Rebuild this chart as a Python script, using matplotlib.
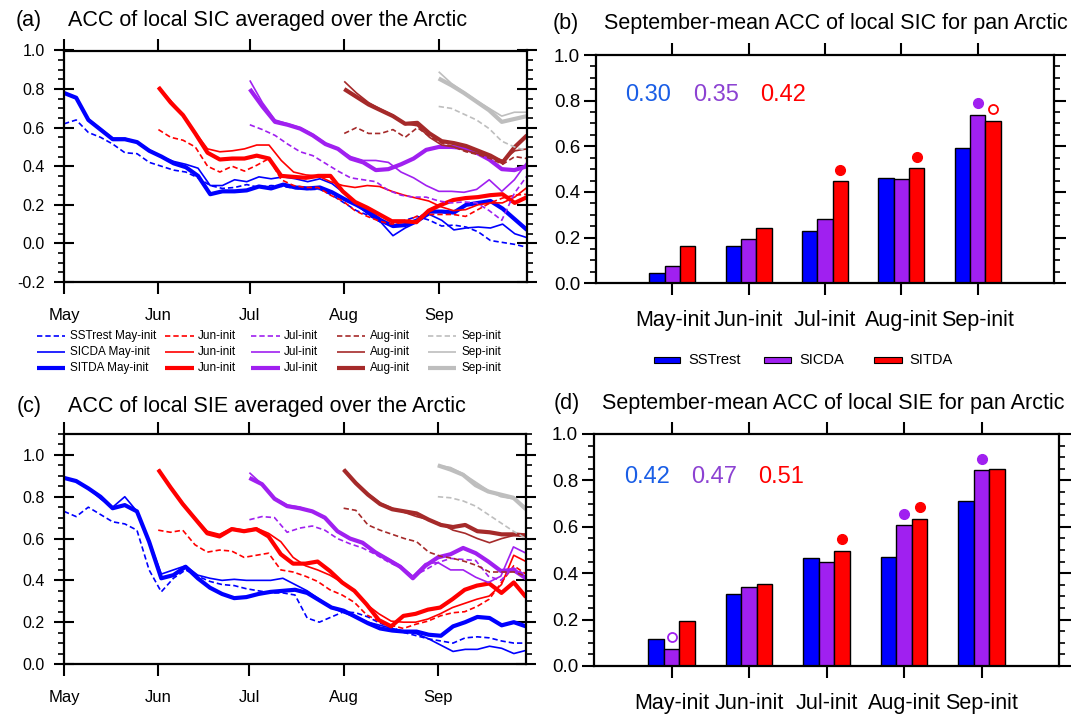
import numpy as np
import matplotlib
matplotlib.use('Agg')
import matplotlib.pyplot as plt
from matplotlib.lines import Line2D
from matplotlib.patches import Rectangle
from matplotlib.ticker import MultipleLocator, FormatStrFormatter

plt.rcParams['font.family'] = ['Liberation Sans', 'DejaVu Sans']
plt.rcParams['axes.unicode_minus'] = False

# ---------------- data ----------------
months = ['May', 'Jun', 'Jul', 'Aug', 'Sep']
init_days = [0, 31, 61, 92, 123]      # day offset from 1 May
end_day = 152                          # 30 Sep
exps = ['SSTrest', 'SICDA', 'SITDA']

# (a) ACC of local SIC
sic_may_sst = [0.62,0.64,0.575,0.55,0.515,0.47,0.465,0.42,0.40,0.38,0.37,0.34,0.30,0.285,0.29,0.305,0.29,0.30,0.295,0.285,0.28,0.28,0.25,0.21,0.17,0.145,0.11,0.09,0.12,0.14,0.12,0.09,0.095,0.085,0.06,0.015,0.005,-0.005,-0.02]
sic_may_sicda = [0.78,0.755,0.645,0.595,0.545,0.545,0.525,0.485,0.45,0.425,0.41,0.39,0.30,0.30,0.33,0.32,0.345,0.335,0.345,0.335,0.32,0.335,0.31,0.26,0.20,0.15,0.11,0.04,0.08,0.11,0.15,0.12,0.07,0.08,0.085,0.08,0.10,0.05,0.03]
sic_may_sitda = [0.78,0.755,0.64,0.59,0.54,0.54,0.525,0.48,0.45,0.415,0.395,0.35,0.255,0.27,0.27,0.275,0.295,0.285,0.305,0.29,0.285,0.29,0.265,0.23,0.20,0.165,0.12,0.09,0.095,0.12,0.165,0.165,0.16,0.20,0.21,0.22,0.18,0.125,0.07]
sic_jun_sst = [0.59,0.55,0.535,0.50,0.40,0.37,0.40,0.375,0.405,0.44,0.33,0.30,0.29,0.29,0.25,0.22,0.17,0.14,0.115,0.10,0.11,0.14,0.15,0.15,0.15,0.14,0.175,0.21,0.235,0.25,0.255]
sic_jun_sicda = [0.81,0.74,0.665,0.575,0.49,0.475,0.48,0.49,0.51,0.51,0.43,0.37,0.355,0.35,0.32,0.30,0.29,0.30,0.295,0.27,0.25,0.235,0.22,0.19,0.17,0.175,0.20,0.21,0.21,0.24,0.29]
sic_jun_sitda = [0.81,0.73,0.665,0.57,0.47,0.435,0.44,0.44,0.455,0.44,0.35,0.345,0.34,0.35,0.35,0.27,0.215,0.185,0.15,0.115,0.115,0.11,0.17,0.20,0.225,0.235,0.24,0.25,0.255,0.21,0.24]
sic_jul_sst = [0.615,0.59,0.56,0.515,0.475,0.455,0.415,0.375,0.34,0.33,0.32,0.275,0.25,0.24,0.24,0.22,0.21,0.215,0.21,0.17,0.12,0.26,0.35]
sic_jul_sicda = [0.845,0.73,0.64,0.62,0.60,0.565,0.52,0.49,0.45,0.43,0.43,0.42,0.37,0.34,0.30,0.27,0.27,0.265,0.28,0.33,0.27,0.33,0.42]
sic_jul_sitda = [0.80,0.71,0.63,0.615,0.595,0.56,0.515,0.49,0.44,0.42,0.38,0.385,0.41,0.44,0.485,0.50,0.50,0.495,0.47,0.435,0.385,0.38,0.40]
sic_aug_sst = [0.57,0.60,0.57,0.57,0.59,0.55,0.60,0.555,0.52,0.50,0.475,0.46,0.44,0.41,0.45,0.44]
sic_aug_sicda = [0.84,0.78,0.73,0.695,0.665,0.62,0.61,0.55,0.51,0.50,0.48,0.465,0.45,0.43,0.48,0.49]
sic_aug_sitda = [0.80,0.76,0.72,0.69,0.66,0.62,0.625,0.57,0.53,0.52,0.505,0.48,0.455,0.42,0.50,0.56]
sic_sep_sst = [0.71,0.70,0.67,0.64,0.595,0.53,0.50,0.48]
sic_sep_sicda = [0.89,0.83,0.785,0.74,0.70,0.66,0.68,0.68]
sic_sep_sitda = [0.855,0.82,0.78,0.735,0.69,0.63,0.645,0.66]

# (c) ACC of local SIE
sie_may_sst = [0.73,0.705,0.75,0.715,0.68,0.67,0.64,0.45,0.345,0.41,0.45,0.42,0.395,0.38,0.375,0.36,0.35,0.34,0.34,0.33,0.22,0.20,0.225,0.25,0.245,0.225,0.195,0.175,0.15,0.135,0.12,0.11,0.10,0.125,0.13,0.125,0.11,0.10,0.10]
sie_may_sicda = [0.89,0.875,0.84,0.79,0.75,0.80,0.73,0.59,0.43,0.45,0.47,0.425,0.41,0.40,0.405,0.40,0.40,0.40,0.41,0.38,0.35,0.31,0.27,0.245,0.225,0.20,0.185,0.17,0.155,0.145,0.12,0.09,0.06,0.07,0.07,0.085,0.075,0.05,0.065]
sie_may_sitda = [0.89,0.875,0.84,0.80,0.745,0.76,0.73,0.585,0.41,0.425,0.465,0.41,0.365,0.335,0.315,0.32,0.335,0.345,0.35,0.355,0.34,0.305,0.27,0.255,0.225,0.195,0.17,0.16,0.155,0.155,0.14,0.135,0.18,0.20,0.225,0.22,0.185,0.20,0.18]
sie_jun_sst = [0.64,0.63,0.64,0.57,0.535,0.545,0.54,0.51,0.52,0.53,0.45,0.44,0.42,0.395,0.355,0.33,0.295,0.235,0.205,0.185,0.17,0.19,0.205,0.23,0.245,0.25,0.275,0.31,0.39,0.47,0.43]
sie_jun_sicda = [0.93,0.85,0.77,0.70,0.635,0.62,0.65,0.64,0.65,0.625,0.585,0.51,0.47,0.45,0.425,0.39,0.35,0.285,0.24,0.205,0.20,0.20,0.215,0.24,0.27,0.29,0.31,0.325,0.38,0.52,0.49]
sie_jun_sitda = [0.93,0.845,0.765,0.695,0.625,0.61,0.645,0.635,0.645,0.61,0.525,0.48,0.48,0.49,0.445,0.39,0.35,0.285,0.21,0.18,0.23,0.24,0.26,0.27,0.31,0.355,0.375,0.385,0.34,0.39,0.32]
sie_jul_sst = [0.69,0.705,0.70,0.63,0.65,0.66,0.64,0.60,0.575,0.555,0.525,0.49,0.46,0.42,0.45,0.485,0.505,0.50,0.495,0.42,0.40,0.46,0.425]
sie_jul_sicda = [0.915,0.86,0.795,0.76,0.75,0.73,0.695,0.635,0.60,0.58,0.535,0.505,0.47,0.42,0.48,0.485,0.45,0.45,0.415,0.39,0.42,0.56,0.53]
sie_jul_sitda = [0.89,0.86,0.79,0.755,0.745,0.73,0.70,0.635,0.60,0.58,0.535,0.50,0.465,0.41,0.47,0.51,0.525,0.555,0.53,0.49,0.445,0.45,0.41]
sie_aug_sst = [0.745,0.735,0.665,0.64,0.62,0.60,0.585,0.535,0.515,0.505,0.49,0.47,0.44,0.44,0.44,0.42]
sie_aug_sicda = [0.93,0.87,0.815,0.77,0.745,0.725,0.705,0.69,0.67,0.64,0.625,0.60,0.58,0.60,0.615,0.62]
sie_aug_sitda = [0.93,0.865,0.81,0.765,0.74,0.73,0.72,0.69,0.665,0.655,0.665,0.635,0.63,0.62,0.62,0.615]
sie_sep_sst = [0.80,0.795,0.78,0.755,0.715,0.675,0.635,0.60]
sie_sep_sicda = [0.95,0.94,0.91,0.87,0.83,0.80,0.79,0.75]
sie_sep_sitda = [0.95,0.93,0.905,0.855,0.825,0.81,0.795,0.74]

# (b)/(d) September-mean ACC bars
groups = ['May-init', 'Jun-init', 'Jul-init', 'Aug-init', 'Sep-init']
sic_bar_sst = [0.044, 0.165, 0.231, 0.460, 0.591]
sic_bar_sicda = [0.077, 0.196, 0.282, 0.455, 0.739]
sic_bar_sitda = [0.165, 0.241, 0.447, 0.505, 0.712]
sie_bar_sst = [0.116, 0.310, 0.467, 0.470, 0.710]
sie_bar_sicda = [0.073, 0.342, 0.450, 0.606, 0.843]
sie_bar_sitda = [0.194, 0.352, 0.497, 0.635, 0.848]
# significance marks: 'f' filled dot, 'o' open circle, '' none
sic_sig_sicda = ['', '', '', '', 'f']
sic_sig_sitda = ['', '', 'f', 'f', 'o']
sie_sig_sicda = ['o', '', '', 'f', 'f']
sie_sig_sitda = ['', '', 'f', 'f', '']
sic_means = ['0.30', '0.35', '0.42']
sie_means = ['0.42', '0.47', '0.51']

# ---------------- style ----------------
month_colors = ['#0000ff', '#ff0000', '#a020f0', '#a52a2a', '#bebebe']
exp_styles = {'SSTrest': dict(lw=1.2, ls=(0, (3.2, 1.8))),
              'SICDA': dict(lw=1.2, ls='-'),
              'SITDA': dict(lw=3.0, ls='-')}
bar_colors = ['#0000ff', '#a020f0', '#ff0000']
mean_colors = ['#1a5ee6', '#8c42d2', '#ff0000']

W, H = 1088, 717
fig = plt.figure(figsize=(W / 100, H / 100), dpi=100)


def fx(x):
    return x / W


def fy(y):
    return 1 - y / H


def axes_px(l, t, r, b):
    return fig.add_axes([fx(l), fy(b), (r - l) / W, (b - t) / H])


def style_axes(ax, ylab_size, ylab_pad, y_inout=False):
    for s in ax.spines.values():
        s.set_linewidth(1.6)
    ax.tick_params(which='both', direction='out', top=True, right=True, width=1.5)
    ax.tick_params(which='major', length=8.5)
    ax.tick_params(which='minor', length=4.0, width=1.2)
    if y_inout:
        ax.tick_params(axis='y', which='major', direction='inout', length=14)
    ax.tick_params(axis='y', labelsize=ylab_size, pad=ylab_pad)
    ax.yaxis.set_major_formatter(FormatStrFormatter('%.1f'))


sic = {'May': [sic_may_sst, sic_may_sicda, sic_may_sitda],
       'Jun': [sic_jun_sst, sic_jun_sicda, sic_jun_sitda],
       'Jul': [sic_jul_sst, sic_jul_sicda, sic_jul_sitda],
       'Aug': [sic_aug_sst, sic_aug_sicda, sic_aug_sitda],
       'Sep': [sic_sep_sst, sic_sep_sicda, sic_sep_sitda]}
sie = {'May': [sie_may_sst, sie_may_sicda, sie_may_sitda],
       'Jun': [sie_jun_sst, sie_jun_sicda, sie_jun_sitda],
       'Jul': [sie_jul_sst, sie_jul_sicda, sie_jul_sitda],
       'Aug': [sie_aug_sst, sie_aug_sicda, sie_aug_sitda],
       'Sep': [sie_sep_sst, sie_sep_sicda, sie_sep_sitda]}


def line_panel(ax, data, ylim, ymajor):
    for m, start, col in zip(months, init_days, month_colors):
        for exp, vals in zip(exps, data[m]):
            days = np.linspace(start, end_day, len(vals))
            ax.plot(days, vals, color=col, solid_capstyle='butt', **exp_styles[exp])
    ax.set_xlim(0, end_day)
    ax.set_ylim(*ylim)
    ax.set_xticks(init_days)
    ax.set_xticklabels(months)
    ax.set_yticks(ymajor)
    ax.yaxis.set_minor_locator(MultipleLocator(0.05))
    style_axes(ax, 11.5, 7, y_inout=True)
    ax.tick_params(axis='x', labelsize=12, pad=10)


def bar_panel(ax, s1, s2, s3, sig2, sig3, means, mean_xy):
    x = np.arange(1, len(groups) + 1)
    for k, (vals, col) in enumerate(zip([s1, s2, s3], bar_colors)):
        ax.bar(x + (k - 1) * 0.2, vals, width=0.2, color=col, edgecolor='black', linewidth=1.0, zorder=2)
    for vals, sig, col, k in [(s2, sig2, bar_colors[1], 0), (s3, sig3, bar_colors[2], 1)]:
        for i, s in enumerate(sig):
            if s == 'f':
                ax.plot(x[i] + k * 0.2, vals[i] + 0.05, 'o', ms=7, color=col, mec=col, zorder=3)
            elif s == 'o':
                ax.plot(x[i] + k * 0.2, vals[i] + 0.05, 'o', ms=6.5, mfc='white', mec=col, mew=1.3, zorder=3)
    for (tx, ty), t, c in zip(mean_xy, means, mean_colors):
        ax.text(tx, ty, t, color=c, fontsize=17, ha='center', va='center')
    ax.set_xlim(0, 6)
    ax.set_ylim(0, 1.0)
    ax.set_xticks(x)
    ax.set_xticklabels(groups)
    ax.set_yticks(np.arange(0, 1.01, 0.2))
    ax.yaxis.set_minor_locator(MultipleLocator(0.05))
    style_axes(ax, 13.5, 3)
    ax.tick_params(axis='x', labelsize=15.5, pad=11)


# (a)
axA = axes_px(64, 50.5, 527, 282)
line_panel(axA, sic, (-0.2, 1.0), np.arange(-0.2, 1.01, 0.2))
# (b)
axB = axes_px(596, 55, 1054, 283.3)
bar_panel(axB, sic_bar_sst, sic_bar_sicda, sic_bar_sitda, sic_sig_sicda, sic_sig_sitda,
          sic_means, [(0.685, 0.825), (1.57, 0.825), (2.45, 0.825)])
# (c)
axC = axes_px(64, 434, 526, 664)
line_panel(axC, sie, (0.0, 1.1), np.arange(0.0, 1.01, 0.2))
# (d)
axD = axes_px(594, 434, 1059, 666)
bar_panel(axD, sie_bar_sst, sie_bar_sicda, sie_bar_sitda, sie_sig_sicda, sie_sig_sitda,
          sie_means, [(0.687, 0.813), (1.555, 0.813), (2.41, 0.813)])

# titles
title_size = 15.5
for lab, lx, tx, ty, txt in [
        ('(a)', 29, 68, 20.5, 'ACC of local SIC averaged over the Arctic'),
        ('(b)', 566, 604, 23.5, 'September-mean ACC of local SIC for pan Arctic'),
        ('(c)', 29, 68, 406.5, 'ACC of local SIE averaged over the Arctic'),
        ('(d)', 567, 602, 403, 'September-mean ACC of local SIE for pan Arctic')]:
    fig.text(fx(lx), fy(ty), lab, fontsize=title_size, ha='center', va='center')
    fig.text(fx(tx), fy(ty), txt, fontsize=title_size, ha='left', va='center')

# legend of (a)
leg_cols = [(37, 65, 70), (165, 194, 198), (251, 280, 284), (337, 365, 369.5), (428, 456, 461)]
leg_rows = [335.7, 352.3, 368.3]
for (x0, x1, xt), m, col in zip(leg_cols, months, month_colors):
    for y, exp in zip(leg_rows, exps):
        fig.add_artist(Line2D([fx(x0), fx(x1)], [fy(y), fy(y)], transform=fig.transFigure,
                              color=col, solid_capstyle='butt', **exp_styles[exp]))
        lab = f'{exp} {m}-init' if m == 'May' else f'{m}-init'
        fig.text(fx(xt), fy(y), lab, fontsize=8.5, ha='left', va='center')

# legend of (b)
for (x0, x1, xt), name, col in zip([(653.6, 679.8, 688.5), (763.6, 791, 799), (873.7, 901.6, 909.7)],
                                    exps, bar_colors):
    fig.add_artist(Rectangle((fx(x0), fy(363)), (x1 - x0) / W, 6 / H, transform=fig.transFigure,
                             facecolor=col, edgecolor='black', linewidth=0.8))
    fig.text(fx(xt), fy(360), name, fontsize=10.5, ha='left', va='center')

fig.savefig('out.png', dpi=100)
